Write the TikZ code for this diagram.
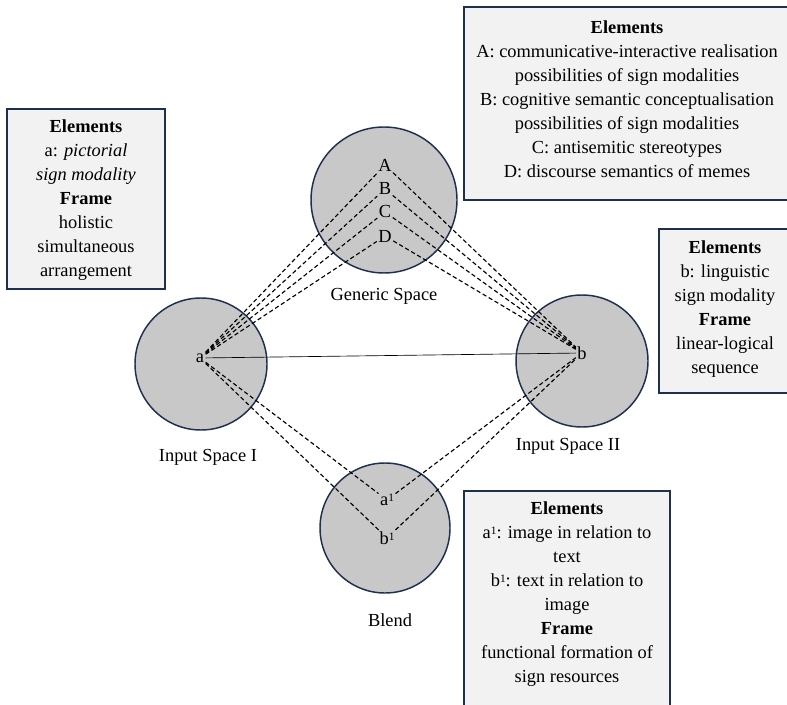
\documentclass[tikz,border=0pt]{standalone}
\usepackage{fontspec}
\setmainfont{Liberation Serif}
\definecolor{rimblue}{HTML}{1F2F4F}
\definecolor{spacegray}{HTML}{C8C8C8}
\definecolor{boxgray}{HTML}{F2F2F2}
\newcommand{\sone}{\raisebox{0.45ex}{\fontsize{8.5}{8.5}\selectfont 1}}

\begin{document}
\begin{tikzpicture}[x=0.75pt, y=-0.75pt,
    font=\fontsize{13.8}{18}\selectfont,
    space/.style={circle, draw=rimblue, line width=1.1pt, fill=spacegray, inner sep=0pt},
    infobox/.style={draw=rimblue, line width=1.6pt, fill=boxgray},
    elem/.style={inner sep=1pt},
    link/.style={dash pattern=on 3.2pt off 2pt, line width=0.85pt}]
\useasboundingbox (0,0) rectangle (787,705);

% mental spaces
\node[space, minimum size=109.5pt] (generic) at (384,200) {};
\node[space, minimum size=99pt] (inputI) at (201,364) {};
\node[space, minimum size=99pt] (inputII) at (582,361) {};
\node[space, minimum size=97.5pt] (blend) at (385,528) {};

\node (genericlbl) at (384,296) {Generic Space};
\node (inputIlbl) at (208,457) {Input Space I};
\node (inputIIlbl) at (568,446) {Input Space II};
\node (blendlbl) at (390,620) {Blend};

% elements
\node[elem] (A) at (385,165) {A};
\node[elem] (B) at (385,189) {B};
\node[elem] (C) at (385,212) {C};
\node[elem] (D) at (385,236) {D};
\node[elem] (a) at (200,358) {a};
\node[elem] (b) at (582,353) {b};
\node[elem] (a1) at (387,500) {a\sone};
\node[elem] (b1) at (387,538) {b\sone};

% mappings
\draw[line width=0.5pt] (a) -- (b);
\foreach \g in {A,B,C,D} {
    \draw[link] (a) -- (\g);
    \draw[link] (\g) -- (b);
}
\foreach \m in {a1,b1} {
    \draw[link] (a) -- (\m);
    \draw[link] (\m) -- (b);
}

% boxes
\draw[infobox] (7,109) rectangle (165,289);
\node[align=center] (boxI) at (86,200) {\textbf{Elements}\\a: \textit{pictorial}\\\textit{sign modality}\\\textbf{Frame}\\holistic\\simultaneous\\arrangement};

\draw[infobox] (464,7) rectangle (792,200);
\node[align=center] (boxgeneric) at (627,99) {\textbf{Elements}\\A: communicative-interactive realisation\\possibilities of sign modalities\\B: cognitive semantic conceptualisation\\possibilities of sign modalities\\C: antisemitic stereotypes\\D: discourse semantics of memes};

\draw[infobox] (659,229) rectangle (792,393);
\node[align=center] (boxII) at (725,309) {\textbf{Elements}\\b: linguistic\\sign modality\\\textbf{Frame}\\linear-logical\\sequence};

\draw[infobox] (464,491) rectangle (670,712);
\node[align=center] (boxblend) at (567,594) {\textbf{Elements}\\a\sone: image in relation to\\text\\b\sone: text in relation to\\image\\\textbf{Frame}\\functional formation of\\sign resources};
\end{tikzpicture}
\end{document}
